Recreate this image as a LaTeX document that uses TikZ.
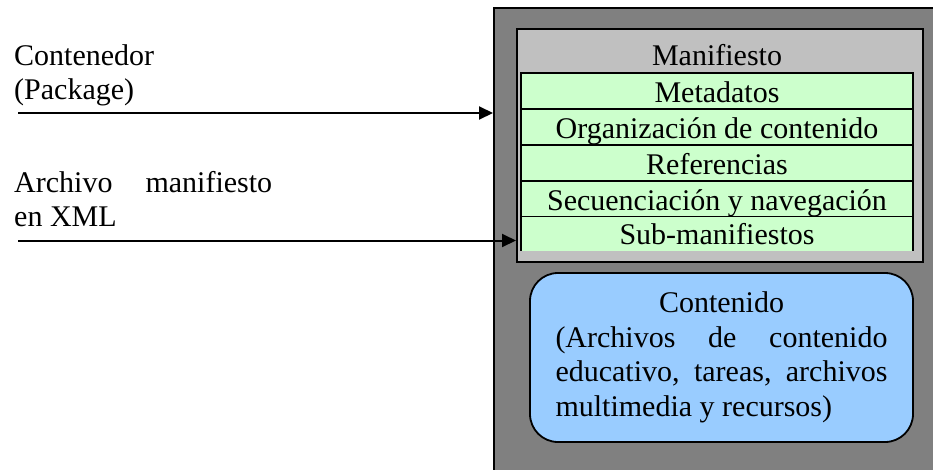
\documentclass[tikz,border=0pt]{standalone}
\usepackage{fontspec}
\setmainfont{Liberation Serif}
\usetikzlibrary{arrows.meta,calc}
\definecolor{pkg_gray}{RGB}{128, 128, 128}
\definecolor{man_gray}{RGB}{192, 192, 192}
\definecolor{row_green}{RGB}{204, 255, 204}
\definecolor{res_blue}{RGB}{153, 204, 255}
\tikzstyle{pkgbox}=[rectangle,fill=pkg_gray,draw=black,line width=2.2pt,
  anchor=north west,inner sep=0pt]
\tikzstyle{manbox}=[rectangle,fill=man_gray,draw=black,line width=2.2pt,
  anchor=north west,inner sep=0pt]
\tikzstyle{row}=[rectangle,fill=row_green,draw=black,line width=1.8pt,
  minimum width=392pt,minimum height=36pt,inner sep=0pt,text height=28pt,text depth=6pt]
\tikzstyle{resbox}=[rectangle,rounded corners=28pt,fill=res_blue,draw=black,
  line width=1.8pt,minimum width=383pt,minimum height=169pt,inner sep=0pt,align=center]
\tikzstyle{sidetext}=[anchor=north west,inner sep=0pt,align=left]
\tikzstyle{feed}=[line width=2pt,-{Triangle[length=14pt,width=13pt]}]
\tikzstyle{none}=[]

\begin{document}
\begin{tikzpicture}[x=1pt, y=-1pt, font=\fontsize{30pt}{34.5pt}\selectfont]
            \useasboundingbox (0, 0) rectangle (933, 469);
            \clip (0, 0) rectangle (933, 469);
            \node [style=pkgbox, minimum width=460pt, minimum height=480pt] (pkg) at (493, 7) {};
            \node [style=manbox, minimum width=406pt, minimum height=233pt] (man) at (516, 28) {};
            \node [style=none, anchor=base] (mantitle) at (717, 65) {Manifiesto};
            \node [style=row] (meta) at (717, 91) {Metadatos};
            \node [style=row] (org) at (717, 127) {Organización de contenido};
            \node [style=row] (refs) at (717, 163) {Referencias};
            \node [style=row] (seq) at (717, 199) {Secuenciación y navegación};
            \node [style=row, draw=none, outer sep=0pt, minimum height=33pt] (sub) at (717, 233.5) {Sub-manifiestos};
            \draw [line width=1.8pt] (sub.south west) -- (sub.north west) -- (sub.north east) -- (sub.south east);
            \node [style=resbox] (res) at (721.5, 357.5) {Contenido\\
              \makebox[332pt][s]{(Archivos de contenido}\\
              \makebox[332pt][s]{educativo, tareas, archivos}\\
              \makebox[332pt][l]{multimedia y recursos)}};
            \node [style=sidetext] (pkgtext) at (14, 44) {Contenedor\\(Package)};
            \node [style=sidetext] (xmltext) at (14, 171) {Archivo\hspace{33pt}manifiesto\\en XML};
            \coordinate (pkgin) at (18, 113);
            \coordinate (xmlin) at (18, 240.5);
            \draw [style=feed] (pkgin) to (pkgin -| pkg.west);
            \draw [style=feed] (xmlin) to (xmlin -| man.west);
    \end{tikzpicture}
\end{document}
